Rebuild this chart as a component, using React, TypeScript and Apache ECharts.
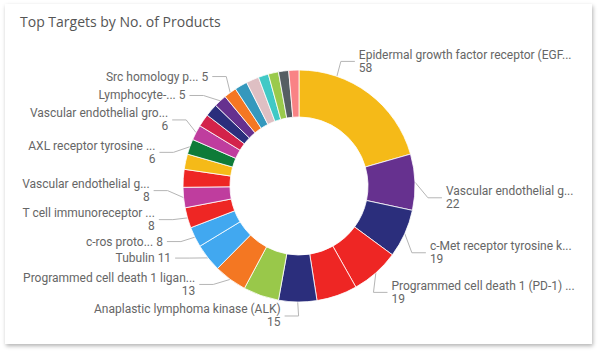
import React, { useEffect, useRef } from "react";
import * as echarts from "echarts";

const chartTitle = "Top Targets by No. of Products";

// Slices in clockwise order from 12 o'clock (sorted descending, as drawn)
const categories = [
  "Epidermal growth factor receptor (EGF...",
  "Vascular endothelial g...",
  "c-Met receptor tyrosine k...",
  "Programmed cell death 1 (PD-1) ...",
  "Target (unlabelled) 5",
  "Anaplastic lymphoma kinase (ALK)",
  "Target (unlabelled) 7",
  "Programmed cell death 1 ligan...",
  "Tubulin",
  "c-ros proto...",
  "T cell immunoreceptor ...",
  "Vascular endothelial g...",
  "Target (unlabelled) 13",
  "Target (unlabelled) 14",
  "AXL receptor tyrosine ...",
  "Vascular endothelial gro...",
  "Target (unlabelled) 17",
  "Target (unlabelled) 18",
  "Lymphocyte-...",
  "Src homology p...",
  "Target (unlabelled) 21",
  "Target (unlabelled) 22",
  "Target (unlabelled) 23",
  "Target (unlabelled) 24",
  "Target (unlabelled) 25",
  "Target (unlabelled) 26",
];

const productCounts = [58, 22, 19, 19, 16, 15, 14, 13, 11, 8, 8, 8, 7, 6, 6, 6, 5, 5, 5, 5, 5, 5, 4, 4, 4, 4];

const labelShown = [
  true, true, true, true, false, true, false, true, true, true, true, true, false,
  false, true, true, false, false, true, true, false, false, false, false, false, false,
];

const sliceColors = [
  "#F5BA18", "#66318F", "#2B2E7C", "#EE2624", "#EE2624", "#2B2E7C", "#99C84A", "#F47722",
  "#41A8F0", "#41A8F0", "#EE2624", "#BF3D9E", "#EE2624", "#F5BA18", "#0E7B38", "#BF3D9E",
  "#D3224A", "#2B2E7C", "#66318F", "#F47722", "#3598BD", "#DEBFC3", "#40C9C6", "#9ACA4C",
  "#565E63", "#F98385",
];

// Layout / style (not data)
const CX = 299;
const CY = 186;
const R_IN = 69;
const R_OUT = 116;
const LEADER_HORIZONTAL = 14;
const LEADER_GAP = 4;
// small [dx, dy] nudges of the library's label placement (Power BI spreads labels a bit differently)
const labelNudges: (number[] | null)[] = [
  [-39, -24], [-2, 16], [-7, 15], [-14, 12], null, [6, 4], null, [-6, -3],
  [-6, -6], [0, 0], [0, -1], [-1, -8], null, null, [-2, 9], [4, -8],
  null, null, [-5, 2], [7, -8], null, null, null, null, null, null,
];

export default function App() {
  const ref = useRef<HTMLDivElement>(null);

  useEffect(() => {
    if (!ref.current) return;
    const chart = echarts.init(ref.current, undefined, { renderer: "svg" });
    const data = categories.map((name, i) => ({
      name,
      value: productCounts[i],
      itemStyle: { color: sliceColors[i] },
      label: { show: labelShown[i] },
      labelLine: { show: labelShown[i] },
    }));
    chart.setOption({
      animation: false,
      title: {
        text: chartTitle,
        left: 20,
        top: 14,
        padding: 0,
        textStyle: {
          fontFamily: "'Segoe UI', 'Open Sans', sans-serif",
          fontSize: 14,
          fontWeight: "normal",
          color: "#555555",
        },
      },
      series: [
        {
          type: "pie",
          center: [CX, CY],
          radius: [R_IN, R_OUT],
          startAngle: 90,
          clockwise: true,
          avoidLabelOverlap: false,
          itemStyle: { borderColor: "#ffffff", borderWidth: 0.8 },
          label: {
            show: true,
            position: "outside",
            color: "#666666",
            fontFamily: "Roboto, sans-serif",
            fontSize: 12,
            lineHeight: 13,
            overflow: "none",
            formatter: (p: any) =>
              p.name.length <= 17 ? `${p.name} ${p.value}` : `${p.name}\n${p.value}`,
          },
          labelLine: {
            show: true,
            length: 10,
            length2: 18,
            lineStyle: { color: "#b5b5b5", width: 1 },
          },
          labelLayout: (p: any) => {
            const nudge = labelNudges[p.dataIndex];
            if (!nudge || !p.labelLinePoints || !p.labelRect) return {};
            const r = p.labelRect;
            const onLeft = r.x + r.width / 2 < CX;
            const sign = onLeft ? 1 : -1;
            const edge = (onLeft ? r.x + r.width : r.x) + nudge[0];
            const y = r.y + r.height / 2 + nudge[1];
            const endX = edge + sign * LEADER_GAP;
            const elbowX = endX + sign * LEADER_HORIZONTAL;
            let anchor = p.labelLinePoints[0];
            // if the rim point lies well beyond the elbow, slide it along the rim (same half) to just under the elbow
            if (sign * (anchor[0] - elbowX) < -6) {
              const ax = elbowX + sign * 4;
              const half = anchor[1] < CY ? -1 : 1;
              anchor = [ax, CY + half * Math.sqrt(Math.max(0, R_OUT * R_OUT - (ax - CX) * (ax - CX)))];
            }
            return {
              x: edge,
              y,
              align: onLeft ? "right" : "left",
              verticalAlign: "middle",
              labelLinePoints: [anchor, [elbowX, y], [endX, y]],
            };
          },
          emphasis: { disabled: true },
          data,
        },
      ],
    });
    return () => chart.dispose();
  }, []);

  return (
    <div style={{ position: "fixed", left: 0, top: 0, width: 602, height: 354, background: "#ffffff" }}>
      <div
        style={{
          position: "absolute",
          left: 5,
          top: 4,
          width: 587,
          height: 340,
          background: "#ffffff",
          boxShadow: "1px 2px 4px rgba(0,0,0,0.3)",
        }}
      />
      <div ref={ref} style={{ position: "absolute", left: 0, top: 0, width: 602, height: 354 }} />
    </div>
  );
}
